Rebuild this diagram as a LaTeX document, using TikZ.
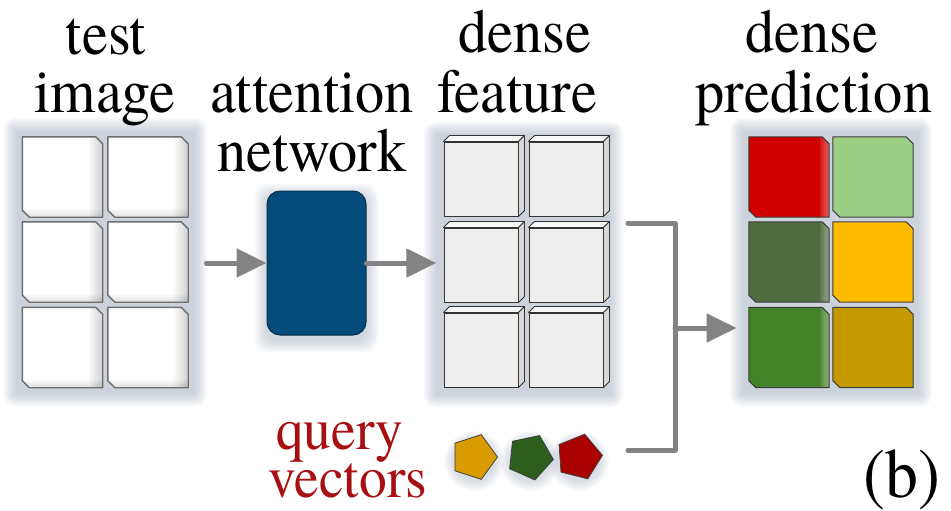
\documentclass[tikz,border=0pt]{standalone}
\usepackage{fontspec}
\usepackage{graphicx}
\setmainfont{texgyretermes}[Extension=.otf, UprightFont=*-regular, BoldFont=*-bold]
\usetikzlibrary{arrows.meta,shapes.geometric,calc,fit,backgrounds}
\newcommand{\hsqz}[1]{\scalebox{0.94}[1]{#1}}
\definecolor{arrowgray}{HTML}{838383}
\definecolor{glowc}{HTML}{95A3B4}
\definecolor{panelc}{HTML}{CCD3DB}
\definecolor{cellborder}{HTML}{6E6E6E}
\definecolor{attblue}{HTML}{054C7D}
\definecolor{attborder}{HTML}{0A2F4A}
\definecolor{featfill}{HTML}{EEEEEE}
\definecolor{feattop}{HTML}{F7F7F7}
\definecolor{featside}{HTML}{D8D8D8}
\definecolor{predborder}{HTML}{3C3C3C}
\definecolor{pRed}{HTML}{D00000}
\definecolor{pLight}{HTML}{9CCF85}
\definecolor{pDark}{HTML}{4E6C40}
\definecolor{pYellow}{HTML}{FFBB00}
\definecolor{pGreen}{HTML}{438227}
\definecolor{pGold}{HTML}{C59A00}
\definecolor{qGold}{HTML}{D89B00}
\definecolor{qGreen}{HTML}{2D5E1E}
\definecolor{qRed}{HTML}{AA0000}
\definecolor{qText}{HTML}{A80F12}
\begin{document}
\begin{tikzpicture}[x=1pt,y=-1pt,
  lbl/.style={font=\fontsize{62}{62}\selectfont, anchor=base, inner sep=0pt},
  qlbl/.style={font=\fontsize{59}{59}\selectfont, anchor=base, inner sep=0pt, text=qText},
  cellbox/.style={rectangle, minimum width=80pt, minimum height=80pt, inner sep=0pt},
  cellline/.style={draw=cellborder, line width=1.4pt, line join=round},
  predline/.style={draw=predborder, line width=1pt, line join=round},
  featcell/.style={rectangle, minimum width=74pt, minimum height=74pt, inner sep=0pt,
    draw=black!80, line width=1pt, fill=featfill},
  facestyle/.style={draw=black!80, line width=0.8pt, line join=round},
  pent/.style={regular polygon, regular polygon sides=5, shape border rotate=-90,
    minimum size=47pt, inner sep=0pt, draw=black!75, line width=0.8pt},
  arr/.style={draw=arrowgray, line width=5pt, line cap=round, -{Triangle[length=30pt,width=28pt]}},
  conn/.style={draw=arrowgray, line width=5pt, line cap=round, line join=round},
  glowlayer/.style={fill=glowc, opacity=0.045},
  innershade/.style={path picture={
    \foreach \i in {1,...,7}{
      \fill[black, opacity=0.022]
        ([xshift=-2*\i pt]path picture bounding box.north east) rectangle (path picture bounding box.south east);
      \fill[black, opacity=0.015]
        ([yshift=1.2*\i pt]path picture bounding box.south west) rectangle (path picture bounding box.south east);
    }}},
  edgeblur/.style={path picture={
    \foreach \i in {1,...,6}{
      \fill[white, opacity=0.07]
        ([xshift=-1.6*\i pt]path picture bounding box.north east) rectangle (path picture bounding box.south east);
    }}}
]
\useasboundingbox (0,0) rectangle (951,511);

% labels
\node[lbl] (l1a) at (106,55) {\hsqz{test}};
\node[lbl] (l1b) at (105,113) {\hsqz{image}};
\node[lbl] (l2a) at (312,113) {\hsqz{attention}};
\node[lbl] (l2b) at (312,171) {\hsqz{network}};
\node[lbl] (l3a) at (525,53) {\hsqz{dense}};
\node[lbl] (l3b) at (517,113) {\hsqz{feature}};
\node[lbl] (l4a) at (812,53) {\hsqz{dense}};
\node[lbl] (l4b) at (814,113) {\hsqz{prediction}};
\node[qlbl] (l5a) at (340,449) {\hsqz{query}};
\node[qlbl] (l5b) at (348,497) {\hsqz{vectors}};
\node[lbl, font=\fontsize{70}{70}\selectfont] (lb) at (902,497) {\hsqz{(b)}};

% test image cells (chamfered at north east and south west)
\foreach \r/\y in {1/177,2/262,3/347.5}{
  \foreach \c/\x in {1/62.5,2/148}{
    \node[cellbox] (ti\r\c) at (\x,\y) {};
    \filldraw[cellline, fill=white, innershade] (ti\r\c.north west) -- ($(ti\r\c.north east)+(-7,0)$) -- ($(ti\r\c.north east)+(0,7)$)
      -- (ti\r\c.south east) -- ($(ti\r\c.south west)+(7,0)$) -- ($(ti\r\c.south west)+(0,-7)$) -- cycle;
  }
}

% attention network
\node[draw=attborder, fill=attblue, rounded corners=13pt, minimum width=99pt, minimum height=144pt,
  line width=1pt, inner sep=0pt] (att) at (316.5,263) {};

% dense feature cells
\foreach \r/\y in {1/179,2/265,3/350}{
  \foreach \c/\x in {1/481,2/566}{
    \node[featcell] (df\r\c) at (\x,\y) {};
    \filldraw[facestyle, fill=feattop] (df\r\c.north west) -- ++(6,-6) -- ($(df\r\c.north east)+(6,-6)$) -- (df\r\c.north east) -- cycle;
    \filldraw[facestyle, fill=featside] (df\r\c.north east) -- ++(6,-6) -- ($(df\r\c.south east)+(6,-6)$) -- (df\r\c.south east) -- cycle;
  }
}

% dense prediction cells
\foreach \r/\y/\ca/\cb in {1/177/pRed/pLight,2/262/pDark/pYellow,3/347.5/pGreen/pGold}{
  \node[cellbox] (pc\r1) at (789,\y) {};
  \filldraw[predline, fill=\ca, edgeblur] (pc\r1.north west) -- ($(pc\r1.north east)+(-7,0)$) -- ($(pc\r1.north east)+(0,7)$)
    -- (pc\r1.south east) -- ($(pc\r1.south west)+(7,0)$) -- ($(pc\r1.south west)+(0,-7)$) -- cycle;
  \node[cellbox] (pc\r2) at (873,\y) {};
  \filldraw[predline, fill=\cb] (pc\r2.north west) -- ($(pc\r2.north east)+(-7,0)$) -- ($(pc\r2.north east)+(0,7)$)
    -- (pc\r2.south east) -- ($(pc\r2.south west)+(7,0)$) -- ($(pc\r2.south west)+(0,-7)$) -- cycle;
}

% query vectors
\node[pent, fill=qGold] (q1) at (474,457) {};
\node[pent, fill=qGreen, rotate=-6] (q2) at (530,457) {};
\node[pent, fill=qRed, rotate=4] (q3) at (579,457) {};

% panels and glows
\begin{scope}[on background layer]
  \node[fit=(ti11)(ti32), inner sep=6pt] (tipanel) {};
  \node[fit=(df11)(df32), inner sep=7pt] (dfpanel) {};
  \node[fit=(pc11)(pc32), inner sep=6pt] (prpanel) {};
  \foreach \p in {tipanel,dfpanel,prpanel}{
    \foreach \k in {1,...,13}{
      \fill[glowlayer, rounded corners=\k pt] ($(\p.south west)+(-\k,\k)$) rectangle ($(\p.north east)+(\k,-\k)$);
    }
    \fill[panelc] (\p.south west) rectangle (\p.north east);
  }
  \foreach \k in {1,...,12}{
    \fill[glowlayer, rounded corners=12pt] ($(att.south west)+(-\k,\k+5)$) rectangle ($(att.north east)+(\k,-\k+5)$);
  }
  \foreach \q in {q1,q2,q3}{
    \foreach \k in {1,...,10}{
      \fill[glowlayer] ($(\q.center)+(0,4)$) circle[radius=20+\k];
    }
  }
\end{scope}

% connectors
\draw[arr] ([xshift=12pt]tipanel.east |- att.west) -- (att.west);
\draw[arr] (att.east) -- (dfpanel.west |- att.east);
\coordinate (bt) at (628,223);
\coordinate (bb) at (628,450);
\coordinate (bj) at (675,328);
\draw[conn] (bt) -| (bj |- bb) -- (bb);
\draw[arr] (bj) -- ([xshift=-6pt]prpanel.west |- bj);
\end{tikzpicture}
\end{document}
